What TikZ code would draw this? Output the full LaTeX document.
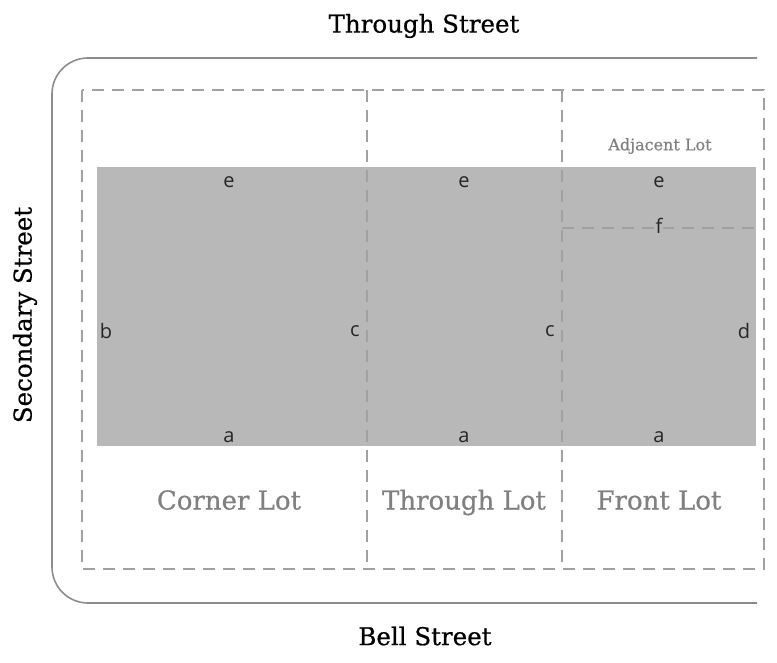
\documentclass[tikz,border=0pt]{standalone}
\usepackage{fontspec}
\setmainfont{DejaVu Serif}[FakeBold=0.6]
\newfontfamily\lblfont{Open Sans}
\begin{document}
\begin{tikzpicture}[x=1pt,y=-1pt,
  dashline/.style={draw=black!37, line width=2.5pt, dash pattern=on 12pt off 8pt},
  street/.style={font=\fontsize{24.5}{28}\selectfont, text=black},
  lotname/.style={font=\fontsize{26}{30}\selectfont, text=black!50, text height=19pt, text depth=6pt},
  letter/.style={font=\lblfont\fontsize{20}{23}\selectfont, text=black!85, inner sep=1pt}]
\useasboundingbox (0,0) rectangle (777,663);
% outer rounded boundary
\draw[black!45, line width=1.6pt, rounded corners=36pt] (757,58) -- (52,58) -- (52,603) -- (757,603);
% built area
\fill[black!28] (97,167) rectangle (756,446);
% lot lines
\draw[dashline] (82,90) rectangle (764,569);
\draw[dashline] (367,90) -- (367,569);
\draw[dashline] (562,90) -- (562,569);
\draw[dashline] (562,228) -- (756,228);
% letters
\node[letter] (e1) at (229,182) {e};
\node[letter] (e2) at (464,182) {e};
\node[letter] (e3) at (659,182) {e};
\node[letter, fill=black!28] (f) at (659,226) {f};
\node[letter] (a1) at (229,437) {a};
\node[letter] (a2) at (464,437) {a};
\node[letter] (a3) at (659,437) {a};
\node[letter] (b) at (106,331) {b};
\node[letter] (c1) at (355,331) {c};
\node[letter] (c2) at (550,331) {c};
\node[letter] (d) at (744,331) {d};
% labels
\node[font=\fontsize{16}{19}\selectfont, text=black!50] (adj) at (660,146) {Adjacent Lot};
\node[lotname] (corner) at (229,503) {Corner Lot};
\node[lotname, fill=white, inner sep=1pt] (through) at (464,503) {Through Lot};
\node[lotname, fill=white, inner sep=1pt] (front) at (659,503) {Front Lot};
\node[street] (ts) at (424,26) {Through Street};
\node[street] (bs) at (425,636) {Bell Street};
\node[street, rotate=90] (ss) at (25,315) {Secondary Street};
\end{tikzpicture}
\end{document}
